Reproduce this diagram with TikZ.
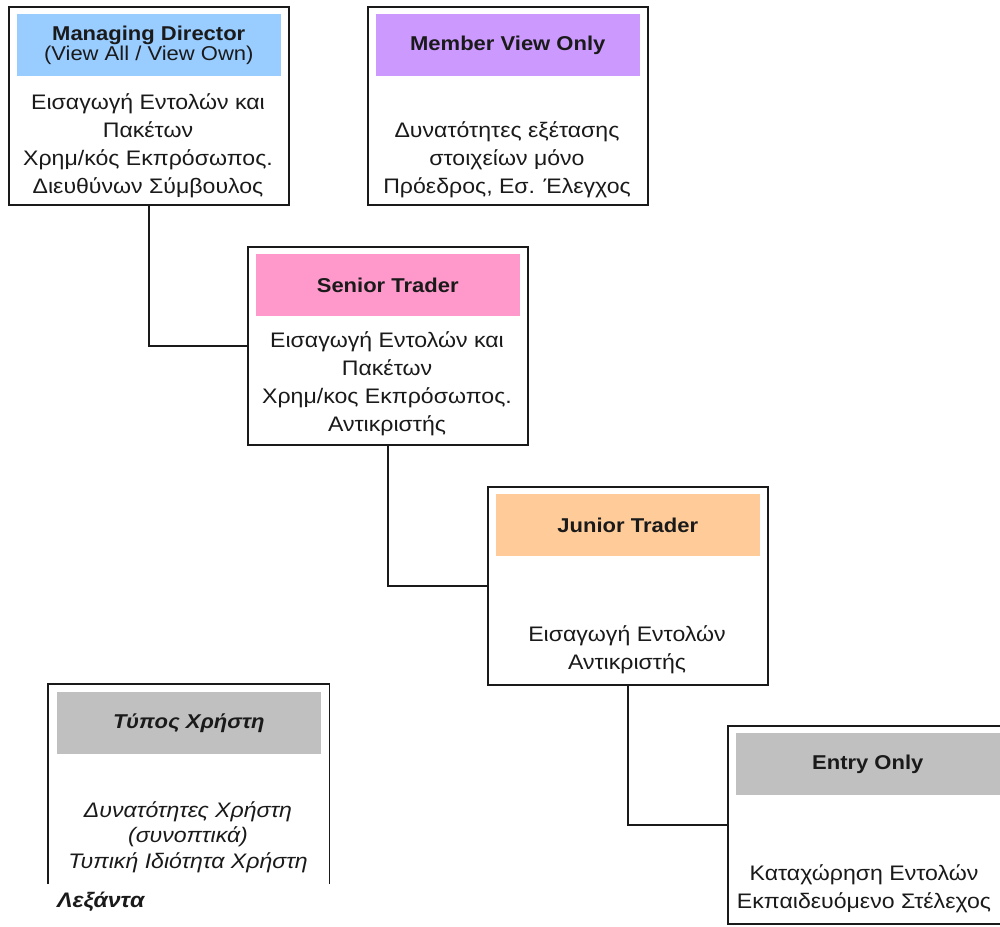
\documentclass[tikz,border=0pt]{standalone}
\usepackage{fontspec}
\setmainfont{Liberation Sans}[FakeStretch=1.1]
\definecolor{hdblue}{HTML}{99CCFF}
\definecolor{hdpurple}{HTML}{CC99FF}
\definecolor{hdpink}{HTML}{FF99CC}
\definecolor{hdorange}{HTML}{FFCC99}
\definecolor{hdgray}{HTML}{C0C0C0}
\definecolor{ink}{HTML}{1A1A1A}
\tikzset{
  x=1pt, y=-1pt,
  rolebox/.style={draw=ink, line width=1.5pt, minimum width=280pt, minimum height=198pt,
    inner sep=0pt, anchor=north west},
  openbox/.style={rolebox, draw=none},
  header/.style={fill=#1, minimum width=264pt, minimum height=62pt, inner sep=0pt,
    anchor=north, align=center, text=ink, font=\fontsize{20}{20.5}\selectfont\bfseries},
  bodytext/.style={align=center, text=ink, inner sep=0pt, font=\fontsize{21}{28}\selectfont},
  legtext/.style={bodytext, font=\fontsize{21}{25.5}\selectfont\itshape},
  link/.style={draw=ink, line width=1.5pt},
}
\begin{document}
\begin{tikzpicture}
\useasboundingbox (0,0) rectangle (1000,926);
\fill[white] (0,0) rectangle (1000,926);

% role boxes
\node[rolebox] (md) at (8,6) {};
\node[rolebox] (mv) at (367,6) {};
\node[rolebox] (st) at (247,246) {};
\node[rolebox] (jt) at (487,486) {};
\node[rolebox] (eo) at (727,725) {};
\node[openbox] (leg) at (48,684) {};
\draw[link] (leg.south west) -- (leg.north west) -- (leg.north east) -- (leg.south east);

% coloured headers
\node[header=hdblue] (mdh) at ([yshift=-8pt]md.north) {Managing Director\\\mdseries (View All / View Own)};
\node[header=hdpurple] (mvh) at ([yshift=-8pt]mv.north) {Member View Only};
\node[header=hdpink] (sth) at ([yshift=-8pt]st.north) {Senior Trader};
\node[header=hdorange] (jth) at ([yshift=-8pt]jt.north) {Junior Trader};
\node[header=hdgray] (eoh) at ([yshift=-8pt]eo.north) {Entry Only};
\node[header=hdgray, font=\fontsize{20}{21}\selectfont\bfseries\itshape] (legh) at ([yshift=-8pt]leg.north) {Τύπος Χρήστη};

% descriptions
\node[bodytext] (mdb) at (148,146) {Εισαγωγή Εντολών και\\Πακέτων\\Χρημ/κός Εκπρόσωπος.\\Διευθύνων Σύμβουλος};
\node[bodytext] (mvb) at (507,160) {Δυνατότητες εξέτασης\\στοιχείων μόνο\\Πρόεδρος, Εσ. Έλεγχος};
\node[bodytext] (stb) at (387,384) {Εισαγωγή Εντολών και\\Πακέτων\\Χρημ/κος Εκπρόσωπος.\\Αντικριστής};
\node[bodytext] (jtb) at (627,650) {Εισαγωγή Εντολών\\Αντικριστής};
\node[bodytext] (eob) at (864,889) {Καταχώρηση Εντολών\\Εκπαιδευόμενο Στέλεχος};
\node[legtext] (legb) at (188,837) {Δυνατότητες Χρήστη\\(συνοπτικά)\\Τυπική Ιδιότητα Χρήστη};
\node[anchor=west, inner sep=0pt, text=ink, font=\fontsize{21}{22}\selectfont\bfseries\itshape] (legend) at (57,902) {Λεξάντα};

% reporting lines
\draw[link] (md.south) |- (st.west);
\draw[link] (st.south) |- (jt.west);
\draw[link] (jt.south) |- (eo.west);
\end{tikzpicture}
\end{document}
